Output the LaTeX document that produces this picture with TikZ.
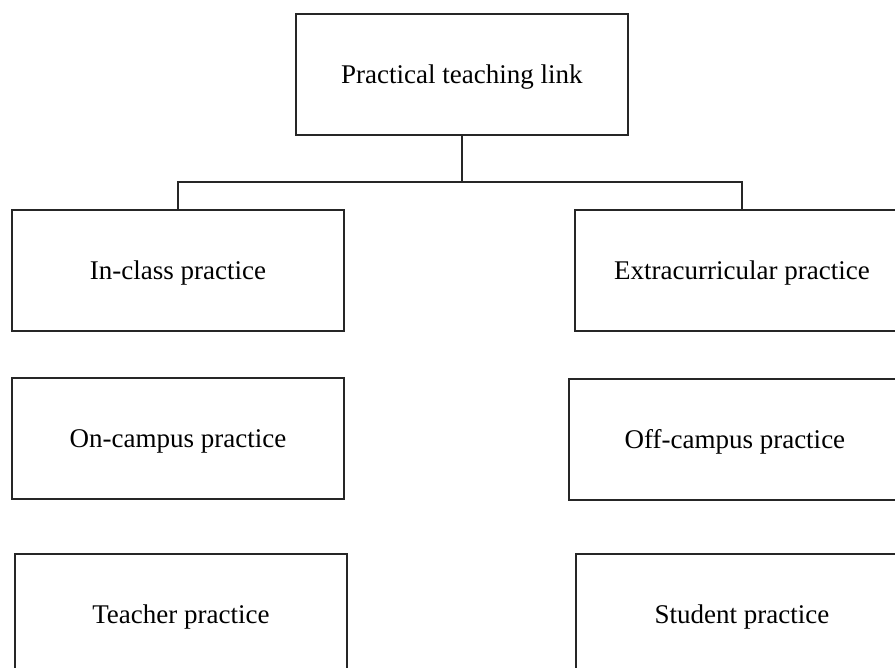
\documentclass[tikz,border=0pt]{standalone}
\usepackage{fontspec}
\setmainfont{Liberation Serif}
\begin{document}
\begin{tikzpicture}[x=1pt,y=-1pt,
  box/.style={draw=black!85, line width=1.8pt, rectangle, minimum width=332pt, minimum height=121pt, inner sep=0pt, text depth=0pt, font=\fontsize{27}{32}\selectfont, anchor=north west},
  conn/.style={draw=black!85, line width=1.8pt}]
\useasboundingbox (0,0) rectangle (895,668);
\clip (0,0) rectangle (895,668);
\node[box] (top) at (295,13) {Practical teaching link};
\node[box] (inclass) at (11,209) {In-class practice};
\node[box, minimum width=334pt] (extra) at (574,209) {Extracurricular practice};
\node[box] (oncampus) at (11,377) {On-campus practice};
\node[box] (offcampus) at (568,378) {Off-campus practice};
\node[box] (teacher) at (14,553) {Teacher practice};
\node[box] (student) at (575,553) {Student practice};
\coordinate (bus) at (461,182);
\draw[conn] (top.south) -- (top.south |- bus);
\draw[conn] (inclass.north) |- (bus) -| (extra.north);
\end{tikzpicture}
\end{document}
